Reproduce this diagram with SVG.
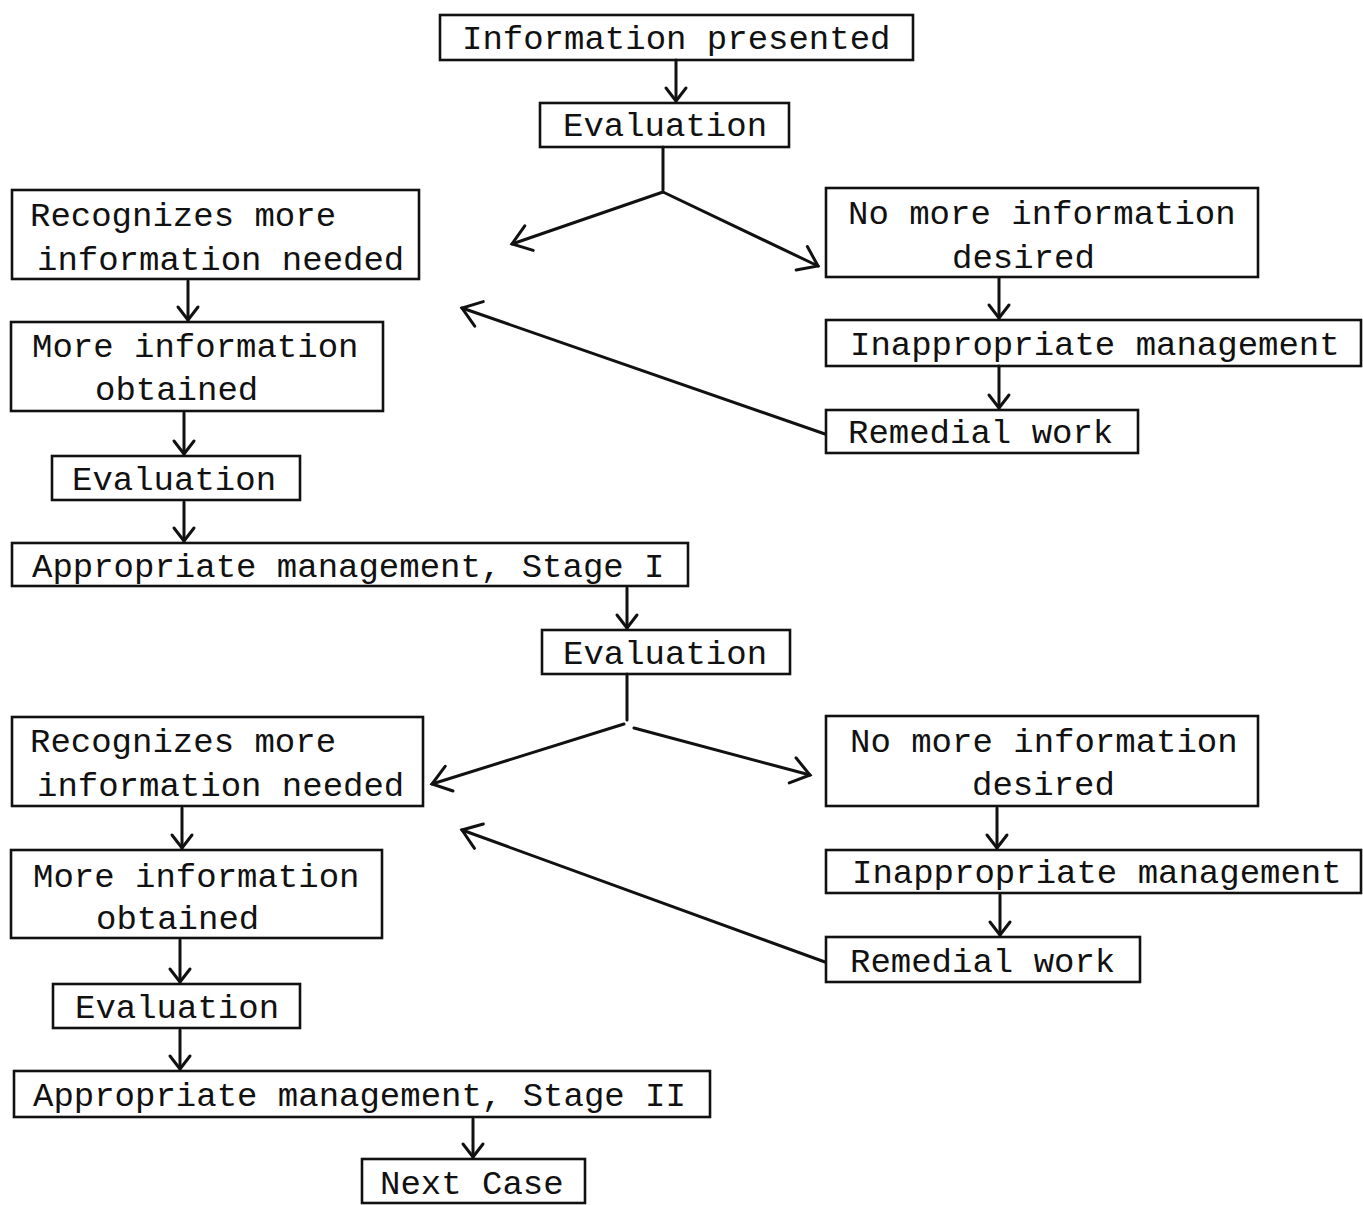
<svg xmlns="http://www.w3.org/2000/svg" width="1363" height="1205" viewBox="0 0 1363 1205">
<style>
.box{fill:none;stroke:#111;stroke-width:2.6}
.t{font-family:"Liberation Mono","Courier New",monospace;font-size:34px;fill:#111}
.c{fill:none;stroke:#111;stroke-width:3;stroke-linecap:round}
</style>
<defs>
<marker id="dn" viewBox="-16 -14 20 28" markerWidth="20" markerHeight="28" markerUnits="userSpaceOnUse" refX="0" refY="0" orient="auto">
<path d="M-13,-10 L0,0 L-13,10" fill="none" stroke="#111" stroke-width="3" stroke-linecap="round"/>
</marker>
<marker id="ch" viewBox="-22 -16 26 32" markerWidth="26" markerHeight="32" markerUnits="userSpaceOnUse" refX="0" refY="0" orient="auto">
<path d="M-18,-13 L0,0 L-18,13" fill="none" stroke="#111" stroke-width="3" stroke-linecap="round"/>
</marker>
</defs>
<rect width="1363" height="1205" fill="#fff"/>
<g id="connectors">
<line class="c" x1="676" y1="60" x2="676" y2="101" marker-end="url(#dn)"/>
<line class="c" x1="663" y1="147" x2="663" y2="190"/>
<line class="c" x1="663" y1="192" x2="512" y2="244" marker-end="url(#ch)"/>
<line class="c" x1="663" y1="192" x2="818" y2="266" marker-end="url(#ch)"/>
<line class="c" x1="188" y1="281" x2="188" y2="320" marker-end="url(#dn)"/>
<line class="c" x1="999" y1="278" x2="999" y2="318" marker-end="url(#dn)"/>
<line class="c" x1="999" y1="366" x2="999" y2="408" marker-end="url(#dn)"/>
<line class="c" x1="825" y1="434" x2="462" y2="308" marker-end="url(#ch)"/>
<line class="c" x1="184" y1="413" x2="184" y2="454" marker-end="url(#dn)"/>
<line class="c" x1="184" y1="502" x2="184" y2="541" marker-end="url(#dn)"/>
<line class="c" x1="627" y1="588" x2="627" y2="628" marker-end="url(#dn)"/>
<line class="c" x1="627" y1="674" x2="627" y2="720"/>
<line class="c" x1="624" y1="724" x2="432" y2="784" marker-end="url(#ch)"/>
<line class="c" x1="634" y1="728" x2="810" y2="775" marker-end="url(#ch)"/>
<line class="c" x1="182" y1="808" x2="182" y2="848" marker-end="url(#dn)"/>
<line class="c" x1="997" y1="808" x2="997" y2="848" marker-end="url(#dn)"/>
<line class="c" x1="1000" y1="895" x2="1000" y2="935" marker-end="url(#dn)"/>
<line class="c" x1="825" y1="962" x2="462" y2="830" marker-end="url(#ch)"/>
<line class="c" x1="180" y1="940" x2="180" y2="982" marker-end="url(#dn)"/>
<line class="c" x1="180" y1="1030" x2="180" y2="1069" marker-end="url(#dn)"/>
<line class="c" x1="473" y1="1119" x2="473" y2="1157" marker-end="url(#dn)"/>
</g>
<g id="n1"><rect class="box" x="440" y="15" width="473" height="45"/><text class="t" x="462" y="49">Information presented</text></g>
<g id="n2"><rect class="box" x="540" y="103" width="249" height="44"/><text class="t" x="563" y="136">Evaluation</text></g>
<g id="n3"><rect class="box" x="12" y="190" width="407" height="89"/><text class="t" x="30" y="226">Recognizes more</text><text class="t" x="37" y="270">information needed</text></g>
<g id="n4"><rect class="box" x="826" y="188" width="432" height="89"/><text class="t" x="848" y="224">No more information</text><text class="t" x="952" y="268">desired</text></g>
<g id="n5"><rect class="box" x="826" y="320" width="535" height="46"/><text class="t" x="850" y="355">Inappropriate management</text></g>
<g id="n6"><rect class="box" x="826" y="410" width="312" height="43"/><text class="t" x="848" y="443">Remedial work</text></g>
<g id="n7"><rect class="box" x="11" y="322" width="372" height="89"/><text class="t" x="32" y="357">More information</text><text class="t" x="95" y="400">obtained</text></g>
<g id="n8"><rect class="box" x="52" y="456" width="248" height="44"/><text class="t" x="72" y="490">Evaluation</text></g>
<g id="n9"><rect class="box" x="12" y="543" width="676" height="43"/><text class="t" x="32" y="577">Appropriate management, Stage I</text></g>
<g id="n10"><rect class="box" x="542" y="630" width="248" height="44"/><text class="t" x="563" y="664">Evaluation</text></g>
<g id="n11"><rect class="box" x="12" y="717" width="411" height="89"/><text class="t" x="30" y="752">Recognizes more</text><text class="t" x="37" y="796">information needed</text></g>
<g id="n12"><rect class="box" x="826" y="716" width="432" height="90"/><text class="t" x="850" y="752">No more information</text><text class="t" x="972" y="795">desired</text></g>
<g id="n13"><rect class="box" x="826" y="850" width="535" height="43"/><text class="t" x="852" y="883">Inappropriate management</text></g>
<g id="n14"><rect class="box" x="826" y="937" width="314" height="45"/><text class="t" x="850" y="972">Remedial work</text></g>
<g id="n15"><rect class="box" x="11" y="850" width="371" height="88"/><text class="t" x="33" y="887">More information</text><text class="t" x="96" y="929">obtained</text></g>
<g id="n16"><rect class="box" x="53" y="984" width="247" height="44"/><text class="t" x="75" y="1018">Evaluation</text></g>
<g id="n17"><rect class="box" x="14" y="1071" width="696" height="46"/><text class="t" x="33" y="1106">Appropriate management, Stage II</text></g>
<g id="n18"><rect class="box" x="362" y="1159" width="223" height="44"/><text class="t" x="380" y="1194">Next Case</text></g>
</svg>
